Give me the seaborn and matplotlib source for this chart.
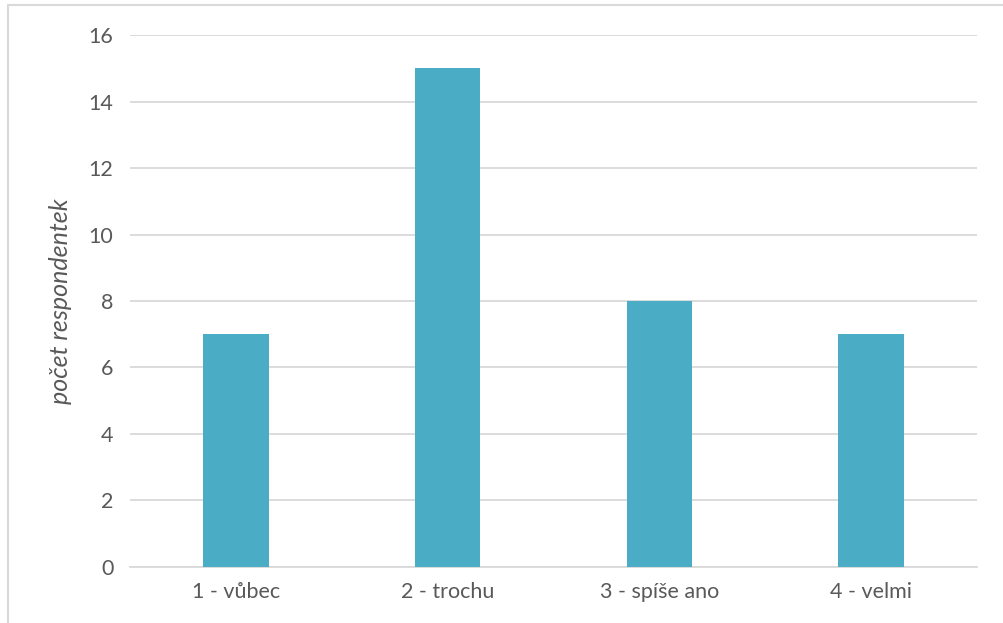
import matplotlib
matplotlib.use("Agg")
import matplotlib.pyplot as plt
import seaborn as sns
import pandas as pd
from matplotlib.patches import Rectangle

categories = ["1 - vůbec", "2 - trochu", "3 - spíše ano", "4 - velmi"]
counts = [7, 15, 8, 7]
y_ticks = [0, 2, 4, 6, 8, 10, 12, 14, 16]
y_label = "počet respondentek"

sns.set_theme(style="white")
plt.rcParams["font.family"] = ["Lato", "DejaVu Sans"]

text_color = "#595959"
grid_color = "#D9D9D9"
bar_color = "#4BACC6"

df = pd.DataFrame({"kategorie": categories, "pocet": counts})

fig = plt.figure(figsize=(10.04, 6.23), dpi=100)
ax = fig.add_axes([0.1295, 0.0899, 0.9731 - 0.1295, 0.9438 - 0.0899])

sns.barplot(data=df, x="kategorie", y="pocet", color=bar_color,
            saturation=1, width=0.31, linewidth=0, ax=ax, zorder=3)

ax.set_ylim(0, 16)
ax.set_yticks(y_ticks)
ax.set_xlim(-0.5, len(categories) - 0.5)
ax.yaxis.grid(True, color=grid_color, linewidth=1.3, zorder=0)
ax.xaxis.grid(False)
for s in ["top", "right", "left"]:
    ax.spines[s].set_visible(False)
ax.spines["bottom"].set_color(grid_color)
ax.spines["bottom"].set_linewidth(1.3)
ax.tick_params(axis="both", length=0, labelsize=15.5, colors=text_color)
ax.tick_params(axis="x", pad=11)
ax.tick_params(axis="y", pad=12)
ax.set_xlabel("")
ax.set_ylabel(y_label, fontsize=18, color=text_color, style="italic", labelpad=12)

# chart-area frame
fig.patches.append(Rectangle((8 / 1004, -0.1), 1.2, 1 - 5 / 623 + 0.1,
                             transform=fig.transFigure, fill=False,
                             edgecolor="#D9D9D9", linewidth=1.5))

fig.savefig("out.png", dpi=100)
